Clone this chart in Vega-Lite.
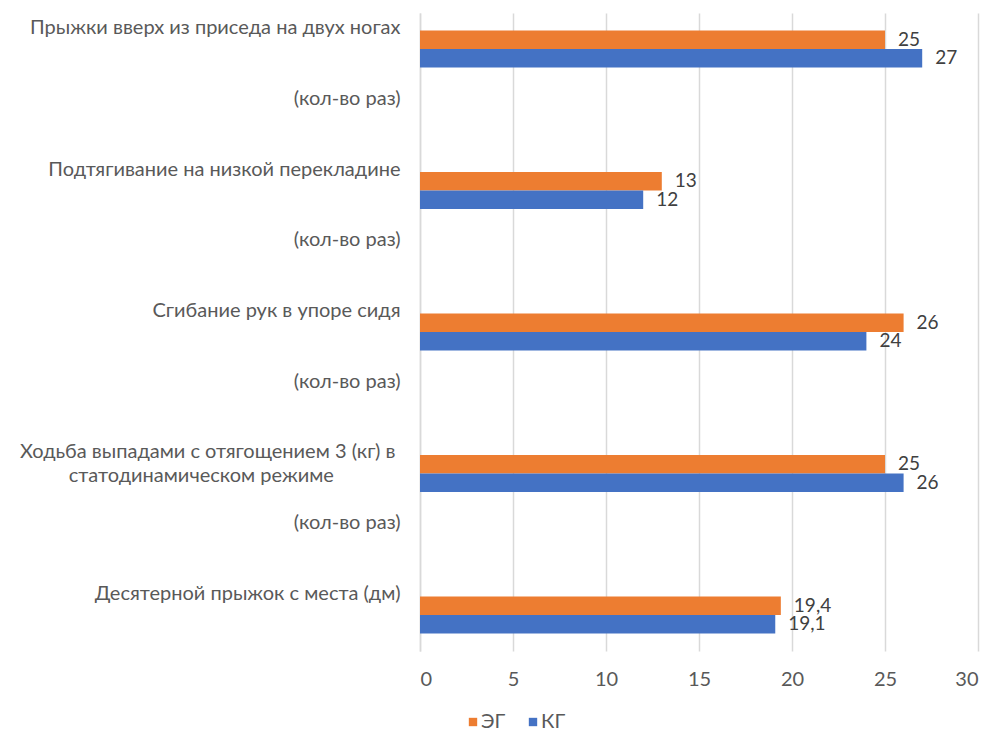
{
  "$schema": "https://vega.github.io/schema/vega-lite/v6.json",
  "autosize": "none",
  "width": 558,
  "height": 638,
  "padding": {"left": 420, "top": 13, "right": 15, "bottom": 80},
  "background": "white",
  "config": {
    "view": {"stroke": null},
    "font": "Lato",
    "locale": {"number": {"decimal": ",", "thousands": " ", "grouping": [3], "currency": ["", ""]}}
  },
  "data": {
    "values": [
      {"cat": "Прыжки вверх из приседа на двух ногах|\u200b\u00a0\u200b|\u200b\u00a0\u200b|(кол-во раз)", "group": "ЭГ", "value": 25},
      {"cat": "Прыжки вверх из приседа на двух ногах|\u200b\u00a0\u200b|\u200b\u00a0\u200b|(кол-во раз)", "group": "КГ", "value": 27},
      {"cat": "Подтягивание на низкой перекладине|\u200b\u00a0\u200b|\u200b\u00a0\u200b|(кол-во раз)", "group": "ЭГ", "value": 13},
      {"cat": "Подтягивание на низкой перекладине|\u200b\u00a0\u200b|\u200b\u00a0\u200b|(кол-во раз)", "group": "КГ", "value": 12},
      {"cat": "Сгибание рук в упоре сидя|\u200b\u00a0\u200b|\u200b\u00a0\u200b|(кол-во раз)", "group": "ЭГ", "value": 26},
      {"cat": "Сгибание рук в упоре сидя|\u200b\u00a0\u200b|\u200b\u00a0\u200b|(кол-во раз)", "group": "КГ", "value": 24},
      {"cat": "Ходьба выпадами с отягощением 3 (кг) в\u00a0\u200b|статодинамическом режиме\u00a0\u00a0\u00a0\u00a0\u00a0\u00a0\u00a0\u00a0\u00a0\u00a0\u00a0\u00a0\u00a0\u200b|\u200b\u00a0\u200b|(кол-во раз)", "group": "ЭГ", "value": 25},
      {"cat": "Ходьба выпадами с отягощением 3 (кг) в\u00a0\u200b|статодинамическом режиме\u00a0\u00a0\u00a0\u00a0\u00a0\u00a0\u00a0\u00a0\u00a0\u00a0\u00a0\u00a0\u00a0\u200b|\u200b\u00a0\u200b|(кол-во раз)", "group": "КГ", "value": 26},
      {"cat": "Десятерной прыжок с места (дм)", "group": "ЭГ", "value": 19.4},
      {"cat": "Десятерной прыжок с места (дм)", "group": "КГ", "value": 19.1}
    ]
  },
  "encoding": {
    "y": {
      "field": "cat",
      "type": "nominal",
      "sort": null,
      "title": null,
      "scale": {"paddingInner": 0.7385, "paddingOuter": 0.1237},
      "axis": {
        "labelExpr": "split(datum.label, '|')",
        "labelLineHeight": 23.5,
        "labelBaseline": "top",
        "labelOffset": -31,
        "labelFontSize": 20,
        "labelColor": "#595959",
        "labelPadding": 20,
        "labelLimit": 0,
        "labelBound": false,
        "ticks": false,
        "tickSize": 0,
        "domain": true,
        "domainColor": "#D9D9D9",
        "domainWidth": 1.5,
        "grid": false
      }
    },
    "yOffset": {
      "field": "group",
      "type": "nominal",
      "sort": ["ЭГ", "КГ"],
      "scale": {"paddingInner": 0, "paddingOuter": 0}
    },
    "x": {
      "field": "value",
      "type": "quantitative",
      "title": null,
      "scale": {"domain": [0, 30], "nice": false},
      "axis": {
        "values": [0, 5, 10, 15, 20, 25, 30],
        "format": "d",
        "labelFontSize": 20,
        "labelColor": "#595959",
        "labelPadding": 18,
        "ticks": false,
        "tickSize": 0,
        "domain": false,
        "grid": true,
        "gridColor": "#D9D9D9",
        "gridWidth": 1.5
      }
    }
  },
  "layer": [
    {
      "mark": {"type": "bar"},
      "encoding": {
        "color": {
          "field": "group",
          "type": "nominal",
          "scale": {"domain": ["ЭГ", "КГ"], "range": ["#ED7D31", "#4472C4"]},
          "legend": {
            "title": null,
            "orient": "none",
            "direction": "horizontal",
            "legendX": 43,
            "legendY": 699,
            "symbolType": "square",
            "symbolSize": 70,
            "symbolStrokeWidth": 0,
            "labelFontSize": 20,
            "labelColor": "#595959",
            "labelOffset": -2,
            "columnPadding": 17
          }
        }
      }
    },
    {
      "mark": {"type": "text", "align": "left", "baseline": "middle", "dx": 13, "fontSize": 19, "color": "#404040"},
      "encoding": {
        "text": {"field": "value", "type": "quantitative", "format": "~g"}
      }
    }
  ]
}
